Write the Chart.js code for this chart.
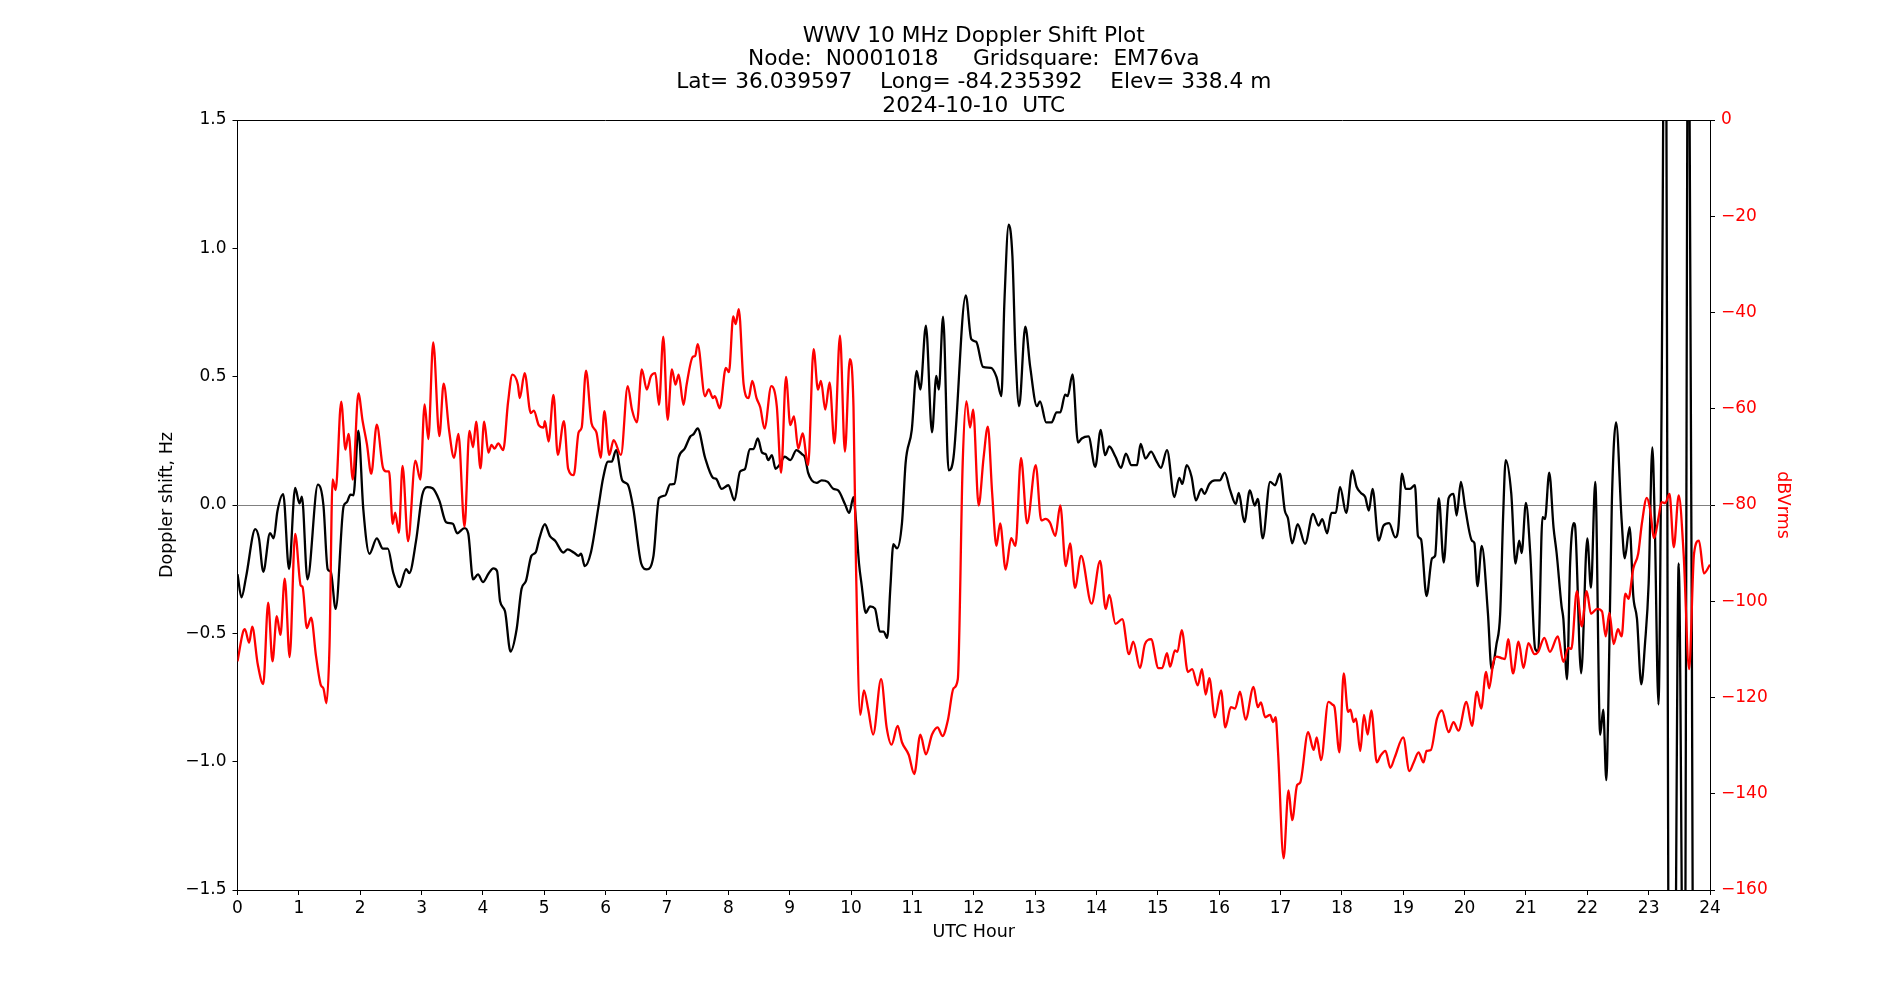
<!DOCTYPE html>
<html lang="en">
<head>
  <meta charset="UTF-8" />
  <title>WWV 10 MHz Doppler Shift Plot</title>
  <script src="https://cdn.jsdelivr.net/npm/chart.js@4"></script>
  <style>
    body {
      margin: 0;
      background: #fff;
    }
    #wrap {
      width: 1900px;
      height: 1000px;
    }
  </style>
</head>
<body>
  <div id="wrap"><canvas id="chart"></canvas></div>

  <script>
    // Doppler shift (Hz), black trace
    const dopplerHours = [
      0, 0.065, 0.14, 0.29, 0.35, 0.42, 0.53, 0.59, 0.65, 0.745, 0.84, 0.94, 1.01, 1.05, 1.14, 1.31, 1.40, 1.47, 1.52, 1.60,
      1.73, 1.78, 1.84, 1.89, 1.97, 2.05, 2.15, 2.27, 2.37, 2.45, 2.54, 2.64, 2.75, 2.80, 2.91, 3.01, 3.09, 3.18, 3.29, 3.40,
      3.51, 3.58, 3.70, 3.76, 3.84, 3.92, 4.0, 4.09, 4.17, 4.23, 4.28, 4.36, 4.45, 4.55, 4.63, 4.70, 4.79, 4.86, 4.92, 5.01,
      5.09, 5.18, 5.31, 5.38, 5.48, 5.56, 5.60, 5.66, 5.76, 5.88, 5.96, 6.04, 6.10, 6.17, 6.27, 6.36, 6.45, 6.58, 6.67, 6.78,
      6.87, 6.97, 7.05, 7.12, 7.19, 7.29, 7.38, 7.43, 7.50, 7.62, 7.75, 7.80, 7.89, 8.00, 8.10, 8.19, 8.27, 8.35, 8.41, 8.48,
      8.55, 8.61, 8.65, 8.71, 8.77, 8.83, 8.92, 9.01, 9.11, 9.20, 9.25, 9.30, 9.36, 9.44, 9.52, 9.62, 9.71, 9.79, 9.90, 9.97,
      10.04, 10.08, 10.13, 10.17, 10.24, 10.31, 10.39, 10.47, 10.53, 10.59, 10.64, 10.69, 10.75, 10.83, 10.89, 10.99, 11.07, 11.13, 11.22, 11.32,
      11.39, 11.43, 11.50, 11.59, 11.67, 11.87, 11.96, 12.04, 12.15, 12.28, 12.37, 12.45, 12.50, 12.57, 12.63, 12.68, 12.74, 12.84, 12.92, 13.03,
      13.08, 13.18, 13.27, 13.35, 13.41, 13.49, 13.53, 13.61, 13.70, 13.76, 13.87, 13.98, 14.07, 14.14, 14.21, 14.31, 14.40, 14.48, 14.57, 14.66,
      14.72, 14.80, 14.89, 14.97, 15.05, 15.15, 15.27, 15.35, 15.40, 15.47, 15.55, 15.62, 15.71, 15.76, 15.84, 15.93, 16.01, 16.09, 16.18, 16.27,
      16.32, 16.41, 16.50, 16.58, 16.63, 16.71, 16.83, 16.91, 16.99, 17.07, 17.12, 17.19, 17.28, 17.40, 17.53, 17.62, 17.68, 17.76, 17.83, 17.90,
      17.97, 18.07, 18.17, 18.24, 18.31, 18.38, 18.44, 18.50, 18.60, 18.68, 18.77, 18.87, 18.92, 18.98, 19.04, 19.11, 19.19, 19.24, 19.29, 19.38,
      19.47, 19.52, 19.58, 19.66, 19.74, 19.82, 19.87, 19.94, 20.01, 20.12, 20.16, 20.21, 20.28, 20.38, 20.44, 20.52, 20.58, 20.63, 20.67, 20.76,
      20.83, 20.89, 20.93, 21.00, 21.07, 21.15, 21.20, 21.27, 21.31, 21.38, 21.45, 21.50, 21.58, 21.61, 21.67, 21.72, 21.78, 21.80, 21.90, 22.00,
      22.06, 22.13, 22.21, 22.26, 22.31, 22.34, 22.40, 22.47, 22.56, 22.61, 22.69, 22.75, 22.81, 22.88, 22.94, 23.00, 23.06, 23.10, 23.16, 23.21,
      23.27, 23.34, 23.41, 23.49, 23.58, 23.65, 23.73
    ];
    const dopplerHz = [
      -0.27, -0.36, -0.28, -0.094, -0.13, -0.26, -0.11, -0.13, -0.025, 0.042, -0.25, 0.067, 0.006, 0.033, -0.29, 0.079, 0.0, -0.25, -0.26, -0.405,
      -0.004, 0.01, 0.04, 0.038, 0.29, -0.015, -0.19, -0.13, -0.17, -0.17, -0.265, -0.32, -0.25, -0.265, -0.14, 0.038, 0.07, 0.065, 0.017, -0.067,
      -0.073, -0.11, -0.09, -0.11, -0.29, -0.27, -0.30, -0.268, -0.247, -0.257, -0.375, -0.414, -0.571, -0.483, -0.326, -0.297, -0.198, -0.185, -0.13, -0.075,
      -0.12, -0.14, -0.185, -0.173, -0.185, -0.198, -0.19, -0.238, -0.185, -0.012, 0.106, 0.169, 0.169, 0.214, 0.096, 0.08, -0.012, -0.228, -0.251, -0.198,
      0.027, 0.037, 0.08, 0.082, 0.185, 0.22, 0.267, 0.275, 0.298, 0.185, 0.106, 0.102, 0.063, 0.077, 0.018, 0.13, 0.14, 0.218, 0.218, 0.259,
      0.204, 0.198, 0.175, 0.194, 0.141, 0.155, 0.188, 0.175, 0.214, 0.198, 0.185, 0.126, 0.096, 0.086, 0.096, 0.09, 0.063, 0.057, 0.004, -0.031,
      0.031, -0.061, -0.228, -0.306, -0.42, -0.395, -0.404, -0.493, -0.493, -0.518, -0.326, -0.153, -0.169, -0.071, 0.165, 0.293, 0.522, 0.45, 0.699, 0.283,
      0.503, 0.45, 0.734, 0.135, 0.185, 0.817, 0.646, 0.636, 0.538, 0.534, 0.499, 0.424, 0.793, 1.092, 0.97, 0.597, 0.385, 0.695, 0.538, 0.385,
      0.404, 0.322, 0.322, 0.361, 0.361, 0.43, 0.424, 0.509, 0.243, 0.259, 0.267, 0.149, 0.293, 0.194, 0.228, 0.188, 0.145, 0.2, 0.155, 0.155,
      0.238, 0.181, 0.208, 0.175, 0.145, 0.214, 0.031, 0.106, 0.082, 0.155, 0.11, 0.018, 0.063, 0.043, 0.082, 0.096, 0.096, 0.126, 0.057, 0.004,
      0.047, -0.067, 0.057, -0.002, 0.024, -0.13, 0.09, 0.077, 0.122, -0.022, -0.051, -0.149, -0.075, -0.151, -0.035, -0.08, -0.055, -0.11, -0.031, -0.031,
      0.071, -0.031, 0.135, 0.071, 0.047, 0.031, -0.022, 0.063, -0.139, -0.08, -0.071, -0.126, -0.09, 0.122, 0.063, 0.063, 0.077, -0.12, -0.134, -0.355,
      -0.208, -0.198, 0.027, -0.224, 0.027, 0.043, -0.041, 0.09, -0.012, -0.139, -0.149, -0.316, -0.159, -0.42, -0.64, -0.542, -0.424, -0.031, 0.175, 0.047,
      -0.228, -0.139, -0.187, 0.008, -0.187, -0.56, -0.57, -0.047, -0.055, 0.126, -0.088, -0.187, -0.393, -0.444, -0.679, -0.228, -0.071, -0.08, -0.656, -0.13,
      -0.322, 0.09, -0.896, -0.797, -1.072, -0.818, 0.008, 0.322, -0.061, -0.208, -0.086, -0.355, -0.444, -0.699, -0.542, -0.306, 0.224, -0.071, -0.777, 0.361,
      2.5, -2.5, -2.5, -0.228, -2.5, 2.5, -2.5
    ];

    // Signal level (dBVrms), red trace on the right axis
    const levelHours = [
      0, 0.09, 0.12, 0.19, 0.24, 0.33, 0.42, 0.50, 0.57, 0.64, 0.70, 0.77, 0.85, 0.94, 1.03, 1.06, 1.13, 1.20, 1.28, 1.36,
      1.40, 1.45, 1.50, 1.55, 1.60, 1.69, 1.76, 1.81, 1.88, 1.97, 2.04, 2.11, 2.18, 2.27, 2.37, 2.42, 2.47, 2.53, 2.57, 2.63,
      2.69, 2.78, 2.90, 2.98, 3.05, 3.11, 3.19, 3.29, 3.36, 3.45, 3.53, 3.60, 3.70, 3.78, 3.84, 3.89, 3.96, 4.02, 4.09, 4.14,
      4.19, 4.25, 4.33, 4.41, 4.48, 4.57, 4.60, 4.68, 4.78, 4.83, 4.91, 4.99, 5.01, 5.07, 5.15, 5.22, 5.32, 5.39, 5.48, 5.56,
      5.61, 5.68, 5.77, 5.85, 5.92, 5.98, 6.06, 6.13, 6.25, 6.36, 6.43, 6.51, 6.59, 6.67, 6.74, 6.81, 6.87, 6.94, 7.01, 7.08,
      7.14, 7.19, 7.27, 7.32, 7.42, 7.46, 7.50, 7.62, 7.68, 7.75, 7.78, 7.86, 7.96, 8.01, 8.08, 8.12, 8.17, 8.25, 8.33, 8.39,
      8.46, 8.52, 8.59, 8.70, 8.79, 8.86, 8.94, 9.01, 9.07, 9.14, 9.21, 9.30, 9.39, 9.46, 9.51, 9.58, 9.65, 9.73, 9.82, 9.90,
      9.98, 10.04, 10.08, 10.15, 10.21, 10.28, 10.36, 10.49, 10.58, 10.66, 10.76, 10.83, 10.94, 11.03, 11.13, 11.22, 11.32, 11.41, 11.49, 11.58,
      11.67, 11.74, 11.82, 11.88, 11.94, 11.99, 12.08, 12.16, 12.23, 12.30, 12.37, 12.43, 12.52, 12.61, 12.68, 12.77, 12.87, 13.01, 13.10, 13.17,
      13.24, 13.33, 13.41, 13.50, 13.57, 13.65, 13.75, 13.92, 14.06, 14.15, 14.21, 14.31, 14.42, 14.53, 14.60, 14.71, 14.79, 14.89, 15.01, 15.07,
      15.15, 15.20, 15.28, 15.32, 15.39, 15.49, 15.56, 15.65, 15.72, 15.78, 15.84, 15.93, 16.03, 16.10, 16.19, 16.26, 16.34, 16.43, 16.56, 16.63,
      16.68, 16.75, 16.83, 16.88, 16.92, 16.96, 17.05, 17.13, 17.19, 17.27, 17.32, 17.45, 17.54, 17.59, 17.66, 17.78, 17.85, 17.88, 17.96, 18.03,
      18.10, 18.14, 18.19, 18.23, 18.30, 18.36, 18.42, 18.48, 18.57, 18.63, 18.71, 18.79, 18.86, 19.00, 19.10, 19.17, 19.25, 19.33, 19.38, 19.45,
      19.55, 19.63, 19.74, 19.82, 19.90, 20.03, 20.12, 20.20, 20.27, 20.35, 20.40, 20.47, 20.52, 20.60, 20.66, 20.71, 20.79, 20.88, 20.96, 21.04,
      21.14, 21.20, 21.30, 21.39, 21.52, 21.61, 21.69, 21.74, 21.83, 21.91, 21.99, 22.06, 22.16, 22.24, 22.30, 22.36, 22.43, 22.50, 22.56, 22.62,
      22.67, 22.75, 22.83, 22.89, 22.97, 23.02, 23.09, 23.16, 23.21, 23.27, 23.34, 23.41, 23.49, 23.57, 23.66, 23.74, 23.82, 23.90, 24.0
    ];
    const levelDb = [
      -112.5, -106.4, -105.8, -108.6, -105.3, -113.1, -117.2, -100.3, -112.5, -103.1, -107.0, -95.3, -111.6, -86.0, -96.7, -97.0, -105.6, -103.4, -111.4, -117.5,
      -118.1, -121.2, -109.2, -74.7, -76.9, -58.5, -68.5, -65.2, -74.7, -56.8, -62.6, -67.4, -73.5, -63.3, -72.2, -73.0, -73.0, -83.9, -81.6, -85.8,
      -71.9, -87.5, -70.8, -74.7, -59.1, -66.3, -46.2, -65.7, -54.8, -64.6, -70.2, -65.2, -84.5, -64.6, -68.0, -62.7, -72.4, -62.7, -69.1, -67.5,
      -68.3, -67.2, -68.6, -58.6, -52.9, -55.0, -57.8, -52.6, -60.9, -60.4, -63.4, -63.9, -62.6, -66.8, -57.1, -69.6, -62.6, -72.5, -73.8, -64.9,
      -63.9, -52.1, -63.0, -64.9, -70.2, -60.5, -69.6, -66.5, -69.6, -55.3, -60.2, -62.8, -51.8, -56.0, -53.2, -52.6, -59.2, -45.0, -62.3, -51.8,
      -55.0, -52.9, -59.2, -55.0, -49.2, -49.0, -46.6, -57.4, -56.0, -57.8, -57.4, -59.9, -51.5, -52.4, -40.8, -42.4, -39.3, -55.0, -57.8, -54.2,
      -57.8, -59.7, -64.1, -55.3, -59.5, -73.3, -53.4, -63.4, -61.6, -68.3, -65.1, -71.7, -47.6, -56.0, -54.2, -60.2, -54.5, -67.2, -44.8, -68.9,
      -49.7, -59.7, -92.1, -123.6, -118.5, -122.5, -127.7, -116.2, -126.2, -129.8, -125.9, -129.3, -131.9, -135.9, -127.7, -131.8, -127.7, -126.2, -128.0, -124.6,
      -118.1, -116.2, -71.2, -58.4, -63.9, -60.2, -80.1, -70.2, -63.7, -77.5, -88.5, -83.8, -93.4, -86.9, -88.5, -70.2, -83.8, -71.7, -83.2, -82.9,
      -83.6, -86.4, -80.1, -92.7, -88.0, -97.2, -90.6, -100.5, -91.6, -101.6, -98.7, -104.7, -103.7, -111.0, -108.4, -113.9, -108.9, -107.9, -113.9, -113.9,
      -110.8, -113.6, -110.2, -110.5, -106.0, -114.7, -114.1, -117.5, -114.1, -119.4, -116.0, -124.1, -118.5, -126.2, -122.0, -122.3, -118.8, -124.6, -117.8, -122.0,
      -121.0, -124.1, -123.6, -125.1, -124.1, -131.4, -153.4, -139.3, -145.5, -138.2, -137.7, -127.2, -130.9, -128.3, -133.0, -120.9, -121.5, -122.0, -131.4, -115.0,
      -123.0, -122.5, -125.1, -124.4, -131.1, -123.6, -127.7, -122.7, -133.5, -132.1, -131.1, -134.6, -132.5, -128.3, -135.3, -133.5, -131.4, -133.5, -131.1, -130.9,
      -124.4, -122.7, -127.2, -125.1, -126.9, -120.9, -125.9, -118.8, -122.3, -114.7, -118.1, -112.6, -111.5, -111.8, -112.0, -107.9, -115.0, -108.4, -113.9, -108.7,
      -111.0, -110.5, -107.6, -110.5, -107.3, -112.6, -109.7, -109.9, -97.9, -105.2, -97.9, -102.6, -101.6, -102.1, -107.3, -102.4, -108.9, -105.8, -107.3, -98.4,
      -99.5, -93.2, -90.1, -83.8, -78.5, -80.6, -86.9, -82.7, -79.4, -79.6, -77.7, -88.8, -78.0, -90.1, -114.1, -90.1, -87.4, -94.2, -92.4
    ];

    const titleLines = [
      "WWV 10 MHz Doppler Shift Plot",
      "Node:  N0001018     Gridsquare:  EM76va",
      "Lat= 36.039597    Long= -84.235392    Elev= 338.4 m",
      "2024-10-10  UTC"
    ];

    const minus = (s) => String(s).replace("-", "\u2212");
    const pairs = (xs, ys) => xs.map((x, i) => ({ x: x, y: ys[i] }));

    Chart.defaults.font.family = "'DejaVu Sans', sans-serif";
    Chart.defaults.font.size = 17;
    Chart.defaults.color = "#000";

    const tickFont = { size: 17 };
    const labelFont = { size: 17.5 };

    new Chart(document.getElementById("chart"), {
      type: "line",
      data: {
        datasets: [
          {
            label: "dBVrms",
            data: pairs(levelHours, levelDb),
            yAxisID: "y2",
            borderColor: "#ff0000",
            borderWidth: 2.3,
            pointRadius: 0,
            cubicInterpolationMode: "monotone",
            order: 1
          },
          {
            label: "Doppler shift",
            data: pairs(dopplerHours, dopplerHz),
            yAxisID: "y",
            borderColor: "#000000",
            borderWidth: 2.3,
            pointRadius: 0,
            cubicInterpolationMode: "monotone",
            order: 2
          }
        ]
      },
      options: {
        responsive: true,
        maintainAspectRatio: false,
        animation: false,
        capBezierPoints: false,
        layout: { padding: { left: 150, right: 100, top: 0, bottom: 50 } },
        plugins: {
          legend: { display: false },
          tooltip: { enabled: false },
          title: {
            display: true,
            text: titleLines,
            fullSize: false,
            color: "#000",
            font: { size: 21.7, weight: "normal", lineHeight: "23.3px" },
            padding: { top: 24.5, bottom: 2.3 }
          }
        },
        scales: {
          x: {
            type: "linear",
            position: "bottom",
            min: 0,
            max: 24,
            ticks: { stepSize: 1, font: tickFont, padding: 3, maxRotation: 0 },
            grid: { drawOnChartArea: false, tickLength: 5, tickColor: "#000" },
            border: { color: "#000", width: 1 },
            title: { display: true, text: "UTC Hour", font: labelFont, padding: { top: 0, bottom: 7 } },
            afterFit: (s) => { s.height = 60; }
          },
          xTop: {
            type: "linear",
            position: "top",
            min: 0,
            max: 24,
            ticks: { display: false },
            grid: { display: false, drawTicks: false },
            border: { color: "#000", width: 1 },
            afterFit: (s) => { s.height = 0; }
          },
          y: {
            type: "linear",
            position: "left",
            min: -1.5,
            max: 1.5,
            ticks: {
              stepSize: 0.5,
              font: tickFont,
              padding: 6,
              callback: (v) => minus(v.toFixed(1))
            },
            grid: {
              color: (c) => (c.tick && c.tick.value === 0 ? "#808080" : "rgba(0,0,0,0)"),
              lineWidth: 1,
              tickLength: 5,
              tickColor: "#000"
            },
            border: { color: "#000", width: 1 },
            title: { display: true, text: "Doppler shift, Hz", font: labelFont, padding: { top: 6.5, bottom: 0 } },
            afterFit: (s) => { s.width = 87.5; }
          },
          y2: {
            type: "linear",
            position: "right",
            min: -160,
            max: 0,
            ticks: {
              stepSize: 20,
              font: tickFont,
              color: "#ff0000",
              padding: 6,
              callback: (v) => minus(v)
            },
            grid: { drawOnChartArea: false, tickLength: 5, tickColor: "#000" },
            border: { color: "#000", width: 1 },
            title: { display: true, text: "dBVrms", color: "#ff0000", font: labelFont, padding: { top: 6.5, bottom: 0 } },
            afterFit: (s) => { s.width = 90; }
          }
        }
      }
    });
  </script>
</body>
</html>
